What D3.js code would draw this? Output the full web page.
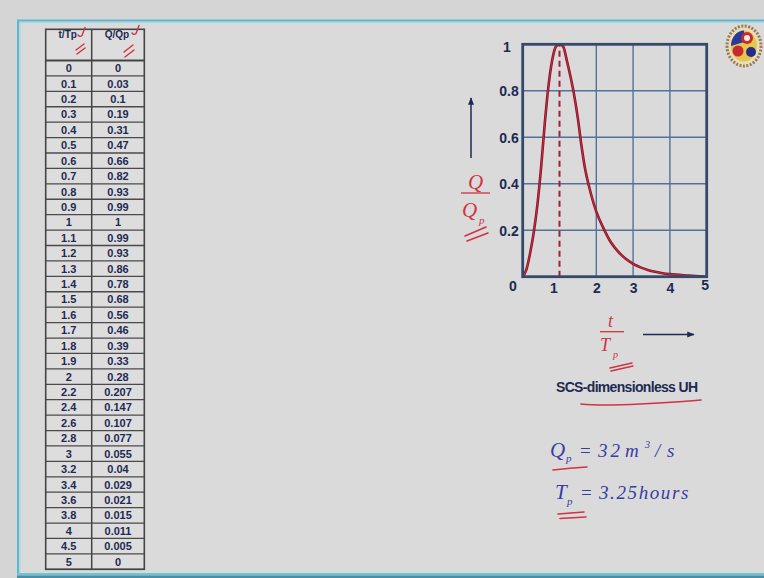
<!DOCTYPE html>
<html>
<head>
<meta charset="utf-8">
<script src="https://cdn.jsdelivr.net/npm/d3@7/dist/d3.min.js"></script>
<style>
  html, body { margin: 0; padding: 0; background: #d7d7d7; }
  svg { display: block; }
</style>
</head>
<body>
<svg id="slide" width="764" height="578"></svg>
<script>
// SCS dimensionless unit hydrograph ordinates
const tTp = [0, 0.1, 0.2, 0.3, 0.4, 0.5, 0.6, 0.7, 0.8, 0.9, 1, 1.1, 1.2, 1.3, 1.4, 1.5, 1.6, 1.7, 1.8, 1.9, 2,
             2.2, 2.4, 2.6, 2.8, 3, 3.2, 3.4, 3.6, 3.8, 4, 4.5, 5];
const qQp = [0, 0.03, 0.1, 0.19, 0.31, 0.47, 0.66, 0.82, 0.93, 0.99, 1, 0.99, 0.93, 0.86, 0.78, 0.68, 0.56, 0.46, 0.39, 0.33, 0.28,
             0.207, 0.147, 0.107, 0.077, 0.055, 0.04, 0.029, 0.021, 0.015, 0.011, 0.005, 0];
const tLabels = ["0", "0.1", "0.2", "0.3", "0.4", "0.5", "0.6", "0.7", "0.8", "0.9", "1", "1.1", "1.2", "1.3", "1.4", "1.5",
                 "1.6", "1.7", "1.8", "1.9", "2", "2.2", "2.4", "2.6", "2.8", "3", "3.2", "3.4", "3.6", "3.8", "4", "4.5", "5"];
const qLabels = ["0", "0.03", "0.1", "0.19", "0.31", "0.47", "0.66", "0.82", "0.93", "0.99", "1", "0.99", "0.93", "0.86", "0.78",
                 "0.68", "0.56", "0.46", "0.39", "0.33", "0.28", "0.207", "0.147", "0.107", "0.077", "0.055", "0.04", "0.029",
                 "0.021", "0.015", "0.011", "0.005", "0"];
const headers = ["t/Tp", "Q/Qp"];
const xTicks = [1, 2, 3, 4, 5];
const yTicks = [0, 0.2, 0.4, 0.6, 0.8, 1];
const xGrid = [2, 3, 4];
const yGrid = [0.2, 0.4, 0.6, 0.8];

const svg = d3.select("#slide");
const NAVY = "#1e2a52";
const INK = "#cf3344";
const BLUE_INK = "#3b3ba6";
const SANS = "Liberation Sans, Arial, sans-serif";

// slide frame
svg.append("rect").attr("x", 0).attr("y", 0).attr("width", 764).attr("height", 578).attr("fill", "#d5d5d5");
svg.append("rect").attr("x", 20).attr("y", 23).attr("width", 760).attr("height", 550).attr("fill", "#dadada");
svg.append("line").attr("x1", 17).attr("x2", 764).attr("y1", 20.5).attr("y2", 20.5).attr("stroke", "#5cb7d1").attr("stroke-width", 2);
svg.append("line").attr("x1", 19).attr("x2", 764).attr("y1", 22.5).attr("y2", 22.5).attr("stroke", "#a9d8e4").attr("stroke-width", 1.2);
svg.append("line").attr("x1", 18).attr("x2", 18).attr("y1", 20).attr("y2", 575).attr("stroke", "#5cb7d1").attr("stroke-width", 2);
svg.append("line").attr("x1", 20).attr("x2", 20).attr("y1", 22).attr("y2", 574).attr("stroke", "#a9d8e4").attr("stroke-width", 1.2);
svg.append("rect").attr("x", 17).attr("y", 573).attr("width", 747).attr("height", 2.5).attr("fill", "#6fc1d6");
svg.append("rect").attr("x", 17).attr("y", 575.5).attr("width", 747).attr("height", 2.5).attr("fill", "#4a8ea6");

// ---------- table ----------
const tbl = svg.append("g");
const colX = [45.7, 91.7, 144.3];
const headTop = 29.3, headBottom = 60.5;
const rowY = d3.scaleLinear().domain([0, tTp.length]).range([headBottom, 569.3]);

tbl.append("rect").attr("x", colX[0]).attr("y", headTop).attr("width", colX[2] - colX[0]).attr("height", rowY(tTp.length) - headTop)
  .attr("fill", "#dddddd");

const rows = tbl.selectAll("g.row").data(tTp).join("g").attr("class", "row");
rows.append("line").attr("x1", colX[0]).attr("x2", colX[2])
  .attr("y1", (d, i) => rowY(i + 1)).attr("y2", (d, i) => rowY(i + 1))
  .attr("stroke", "#4a4a4a").attr("stroke-width", 1.3);
rows.append("text").attr("x", (colX[0] + colX[1]) / 2).attr("y", (d, i) => (rowY(i) + rowY(i + 1)) / 2 + 4)
  .attr("text-anchor", "middle").text((d, i) => tLabels[i]);
rows.append("text").attr("x", (colX[1] + colX[2]) / 2).attr("y", (d, i) => (rowY(i) + rowY(i + 1)) / 2 + 4)
  .attr("text-anchor", "middle").text((d, i) => qLabels[i]);
rows.selectAll("text").attr("font-family", SANS).attr("font-weight", "bold")
  .attr("font-size", 11).attr("fill", NAVY);

tbl.append("line").attr("x1", colX[0]).attr("x2", colX[2]).attr("y1", headBottom).attr("y2", headBottom)
  .attr("stroke", "#444").attr("stroke-width", 2.2);
tbl.append("rect").attr("x", colX[0]).attr("y", headTop).attr("width", colX[2] - colX[0]).attr("height", rowY(tTp.length) - headTop)
  .attr("fill", "none").attr("stroke", "#444").attr("stroke-width", 1.6);
tbl.append("line").attr("x1", colX[1]).attr("x2", colX[1]).attr("y1", headTop).attr("y2", rowY(tTp.length))
  .attr("stroke", "#444").attr("stroke-width", 1.5);
tbl.selectAll("text.head").data(headers).join("text").attr("class", "head")
  .attr("x", (d, i) => (colX[i] + colX[i + 1]) / 2 - 1).attr("y", 38)
  .attr("text-anchor", "middle").attr("font-family", SANS)
  .attr("font-weight", "bold").attr("font-size", 10).attr("fill", NAVY).text(d => d);

// pen ticks on the header
const pen = (g, dStr, w) => g.append("path").attr("d", dStr).attr("fill", "none").attr("stroke", INK)
  .attr("stroke-width", w || 1.4).attr("stroke-linecap", "round");
pen(svg, "M78,35 q2,2.5 4,0.5 l3,-8");
pen(svg, "M76,50 l8,-6");
pen(svg, "M77,54 l8,-6");
pen(svg, "M132,33 q2,2.5 4,0.5 l3,-8");
pen(svg, "M124,52 l9,-7");
pen(svg, "M125,57 l9,-7");

// ---------- chart ----------
const x = d3.scaleLinear().domain([0, 5]).range([522.7, 706.7]);
const y = d3.scaleLinear().domain([0, 1]).range([276.7, 44.3]);
const chart = svg.append("g");

chart.selectAll("line.vg").data(xGrid).join("line").attr("class", "vg")
  .attr("x1", d => x(d)).attr("x2", d => x(d)).attr("y1", y(0)).attr("y2", y(1))
  .attr("stroke", "#55709a").attr("stroke-width", 1.4);
chart.selectAll("line.hg").data(yGrid).join("line").attr("class", "hg")
  .attr("x1", x(0)).attr("x2", x(5)).attr("y1", d => y(d)).attr("y2", d => y(d))
  .attr("stroke", "#55709a").attr("stroke-width", 1.4);

// peak marker at t/Tp = 1
chart.append("line").attr("x1", x(1)).attr("x2", x(1)).attr("y1", y(0)).attr("y2", y(1))
  .attr("stroke", "#a51d36").attr("stroke-width", 2).attr("stroke-dasharray", "6,4");

const pts = tTp.map((t, i) => [t, qQp[i]]);
const line = d3.line().x(d => x(d[0])).y(d => y(d[1])).curve(d3.curveMonotoneX);
chart.append("path").datum(pts).attr("d", line).attr("fill", "none")
  .attr("stroke", "#7a1426").attr("stroke-width", 2.6);
chart.append("path").datum(pts).attr("d", line).attr("fill", "none")
  .attr("stroke", "#cc2a3c").attr("stroke-width", 1.1);

chart.append("rect").attr("x", x(0)).attr("y", y(1)).attr("width", x(5) - x(0)).attr("height", y(0) - y(1))
  .attr("fill", "none").attr("stroke", "#34496c").attr("stroke-width", 2.8);

const yAxis = d3.axisLeft(y).tickValues(yTicks).tickSize(0).tickPadding(4).tickFormat(d3.format("~g"));
const gy = chart.append("g").attr("transform", `translate(${x(0)},0)`).call(yAxis);
gy.select(".domain").remove();
gy.selectAll("text").attr("font-family", SANS).attr("font-weight", "bold")
  .attr("font-size", 14).attr("fill", NAVY)
  .attr("dy", d => d === 0 ? "1.0em" : (d === 1 ? "0.5em" : "0.35em"))
  .attr("dx", d => d === 1 ? -8 : (d === 0 ? -2 : 0));

const xAxis = d3.axisBottom(x).tickValues(xTicks).tickSize(0).tickPadding(6).tickFormat(d3.format("d"));
const gx = chart.append("g").attr("transform", `translate(0,${y(0)})`).call(xAxis);
gx.select(".domain").remove();
gx.selectAll("text").attr("font-family", SANS).attr("font-weight", "bold")
  .attr("font-size", 14).attr("fill", NAVY)
  .attr("dx", d => d === 1 ? -6 : (d === 5 ? -2 : 0))
  .attr("dy", d => d === 5 ? "0.5em" : "0.71em");

// axis captions
const defs = svg.append("defs");
defs.append("marker").attr("id", "head").attr("viewBox", "0 0 10 10").attr("refX", 9).attr("refY", 5)
  .attr("markerWidth", 5).attr("markerHeight", 5).attr("orient", "auto")
  .append("path").attr("d", "M0,1 L10,5 L0,9 Z").attr("fill", NAVY);
svg.append("line").attr("x1", 471).attr("y1", 158).attr("x2", 471).attr("y2", 98)
  .attr("stroke", NAVY).attr("stroke-width", 1.5).attr("marker-end", "url(#head)");
svg.append("line").attr("x1", 643).attr("y1", 334.5).attr("x2", 694).attr("y2", 334.5)
  .attr("stroke", NAVY).attr("stroke-width", 1.5).attr("marker-end", "url(#head)");

const serif = "Liberation Serif, Times New Roman, serif";
const frac = svg.append("g").attr("font-family", serif).attr("font-style", "italic").attr("fill", INK);
frac.append("text").attr("x", 468).attr("y", 189).attr("font-size", 21).text("Q");
frac.append("line").attr("x1", 461).attr("x2", 490).attr("y1", 193).attr("y2", 193).attr("stroke", INK).attr("stroke-width", 1.3);
frac.append("text").attr("x", 462).attr("y", 217).attr("font-size", 21).text("Q");
frac.append("text").attr("x", 479).attr("y", 224).attr("font-size", 11).text("p");
pen(svg, "M465,236 L486,227", 1.6);
pen(svg, "M467,241 L488,233", 1.6);

frac.append("text").attr("x", 608).attr("y", 327).attr("font-size", 18).text("t");
frac.append("line").attr("x1", 600).attr("x2", 624).attr("y1", 331.7).attr("y2", 331.7).attr("stroke", INK).attr("stroke-width", 1.3);
frac.append("text").attr("x", 600).attr("y", 351).attr("font-size", 18).text("T");
frac.append("text").attr("x", 613).attr("y", 358).attr("font-size", 10).text("p");
pen(svg, "M610,368 L632,363", 1.5);
pen(svg, "M611,371 L633,366", 1.5);

svg.append("text").attr("x", 627).attr("y", 391.5).attr("text-anchor", "middle")
  .attr("font-family", SANS).attr("font-weight", "bold")
  .attr("font-size", 14).attr("fill", NAVY).attr("textLength", 142).text("SCS-dimensionless UH");
pen(svg, "M581,404 Q600,406 640,404 T701,400", 1.6);

// design peak values
const eq = svg.append("g").attr("font-family", serif).attr("font-style", "italic").attr("fill", BLUE_INK);
eq.append("text").attr("x", 550).attr("y", 457).attr("font-size", 21).text("Q");
eq.append("text").attr("x", 566).attr("y", 462).attr("font-size", 11).text("p");
eq.append("text").attr("x", 580).attr("y", 457).attr("font-size", 19).attr("font-style", "normal").text("=");
eq.append("text").attr("x", 598).attr("y", 457).attr("font-size", 19).attr("letter-spacing", 3).text("32");
eq.append("text").attr("x", 625).attr("y", 457).attr("font-size", 19).text("m");
eq.append("text").attr("x", 645).attr("y", 448).attr("font-size", 10).text("3");
eq.append("text").attr("x", 655).attr("y", 457).attr("font-size", 19).text("/");
eq.append("text").attr("x", 667).attr("y", 457).attr("font-size", 19).text("s");
pen(svg, "M553,470 Q570,468 587,467", 1.6);

eq.append("text").attr("x", 555).attr("y", 499).attr("font-size", 21).text("T");
eq.append("text").attr("x", 567).attr("y", 505).attr("font-size", 11).text("p");
eq.append("text").attr("x", 581).attr("y", 499).attr("font-size", 19).attr("font-style", "normal").text("=");
eq.append("text").attr("x", 599).attr("y", 499).attr("font-size", 19).attr("letter-spacing", 1.6).text("3.25hours");
pen(svg, "M558,514 L584,512", 1.6);
pen(svg, "M560,518.5 L586,517", 1.6);

// institute emblem
const logo = svg.append("g").attr("transform", "translate(744,46)");
logo.append("ellipse").attr("rx", 17).attr("ry", 20).attr("fill", "#e6dcc0").attr("stroke", "#9a7a4a").attr("stroke-width", 3)
  .attr("stroke-dasharray", "2,1.5");
logo.append("ellipse").attr("rx", 13).attr("ry", 15.5).attr("fill", "#e5c54a");
logo.append("path").attr("d", "M-13,0 A13,15.5 0 0 1 0,-15.5 L0,-4 Z").attr("fill", "#2a3a9a");
logo.append("circle").attr("cx", 3).attr("cy", -8).attr("r", 6).attr("fill", "#c82a30");
logo.append("circle").attr("cx", 3).attr("cy", -8).attr("r", 3).attr("fill", "#f3eee0");
logo.append("circle").attr("cx", -6).attr("cy", 5).attr("r", 5.5).attr("fill", "#c82a30");
logo.append("circle").attr("cx", 7).attr("cy", 6).attr("r", 5).attr("fill", "#222c8a");
</script>
</body>
</html>
